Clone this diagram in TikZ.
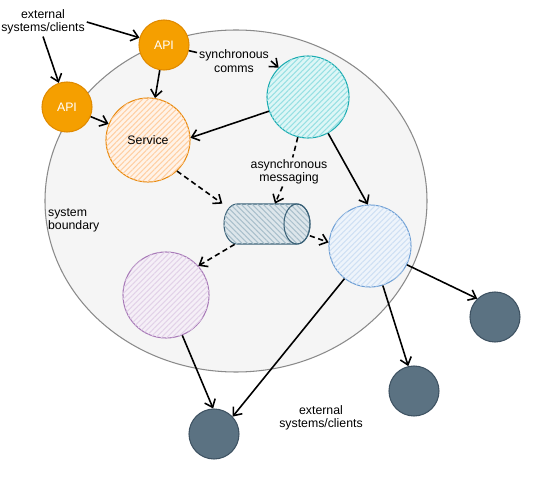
\documentclass[tikz,border=0pt]{standalone}
\usepackage{fontspec}
\setmainfont{Liberation Sans}
\usetikzlibrary{arrows.meta,patterns.meta}
\definecolor{bndgray}{HTML}{8A8A8A}
\definecolor{bndfill}{HTML}{F5F5F5}
\definecolor{apifill}{HTML}{F59F00}
\definecolor{apidraw}{HTML}{E08A00}
\definecolor{svcdraw}{HTML}{E8890C}
\definecolor{svcbg}{HTML}{FFF3E8}
\definecolor{svchatch}{HTML}{FFCFA3}
\definecolor{tealdraw}{HTML}{1AABB0}
\definecolor{tealbg}{HTML}{DDF6F6}
\definecolor{tealhatch}{HTML}{97E0E3}
\definecolor{cyldraw}{HTML}{3A6177}
\definecolor{cylbg}{HTML}{DDE6EB}
\definecolor{cylhatch}{HTML}{A9BFCB}
\definecolor{bluedraw}{HTML}{6E9FD5}
\definecolor{bluebg}{HTML}{EEF4FB}
\definecolor{bluehatch}{HTML}{CFE0F4}
\definecolor{purpdraw}{HTML}{A87AB8}
\definecolor{purpbg}{HTML}{F5EFF7}
\definecolor{purphatch}{HTML}{E2D2E8}
\definecolor{darkfill}{HTML}{5B7282}
\definecolor{darkdraw}{HTML}{3E5262}
\tikzset{
  boundary/.style={draw=bndgray, fill=bndfill, line width=0.6pt},
  hatch/.style 2 args={postaction={pattern color=#2, pattern={Lines[angle=#1,distance=2.2pt,line width=0.6pt]}}},
  comp/.style={circle, inner sep=0pt, line width=0.6pt},
  api/.style={comp, draw=apidraw, fill=apifill, text=white, minimum size=10mm},
  extsys/.style={comp, draw=darkdraw, fill=darkfill, minimum size=10mm},
  queuebox/.style={rectangle, inner sep=0pt, minimum width=17.4mm, minimum height=8mm},
  queuebody/.style={draw=cyldraw, fill=cylbg, hatch={-45}{cylhatch}, line width=0.6pt},
  lbl/.style={align=center, inner sep=1pt},
  arr/.style={line width=0.9pt, -{Straight Barb[length=4pt,width=6.5pt]}},
  dasharr/.style={arr, dash pattern=on 3pt off 2pt},
}
\begin{document}
\begin{tikzpicture}[x=0.2mm, y=-0.2mm, font=\fontsize{7}{7.6}\selectfont]
\useasboundingbox (0,0) rectangle (534,477);
% system boundary
\draw[boundary] (236,201) ellipse [x radius=38.2mm, y radius=34.2mm];
\node[lbl, anchor=west, align=left] (sysb) at (46,220) {system\\boundary};

% components
\node[api] (apitop) at (164,45) {API};
\node[api] (apileft) at (67,107) {API};
\node[comp, draw=svcdraw, fill=svcbg, hatch={45}{svchatch}, minimum size=16.8mm] (service) at (148,140) {Service};
\node[comp, draw=tealdraw, fill=tealbg, hatch={45}{tealhatch}, minimum size=16.4mm] (teal) at (308,97) {};
\node[comp, draw=bluedraw, fill=bluebg, hatch={45}{bluehatch}, minimum size=16.4mm] (blue) at (370,246) {};
\node[comp, draw=purpdraw, fill=purpbg, hatch={45}{purphatch}, minimum size=17.2mm] (purple) at (166,295) {};

% message queue
\node[queuebox] (queue) at (266,224) {};
\draw[queuebody] (237,204) -- (297,204) arc[start angle=90, end angle=-90, x radius=2.6mm, y radius=4mm]
  -- (237,244) arc[start angle=270, end angle=90, x radius=2.6mm, y radius=4mm] -- cycle;
\draw[draw=cyldraw, line width=0.6pt] (297,224) ellipse [x radius=2.6mm, y radius=4mm];

% external systems
\node[extsys] (extA) at (214,434) {};
\node[extsys] (extB) at (414,391) {};
\node[extsys] (extC) at (495,317) {};

% labels
\node[lbl] (extin) at (43,22) {external\\systems/clients};
\node[lbl] (sync) at (234,61) {synchronous\\comms};
\node[lbl] (async) at (289,172) {asynchronous\\messaging};
\node[lbl] (extout) at (321,418) {external\\systems/clients};

% synchronous calls
\draw[arr] (extin.east) -- (apitop);
\draw[arr] (extin.south) -- (apileft);
\draw[arr] (apitop) -- (service);
\draw[arr] (apileft) -- (service);
\draw[line width=0.9pt] (apitop) -- (sync);
\draw[arr] (sync.east) -- (teal.135);
\draw[arr] (teal.200) -- (service.3);
\draw[arr] (teal.-61) -- (blue.93);

% asynchronous messaging
\draw[line width=0.9pt, dash pattern=on 3pt off 2pt] (teal) -- (async);
\draw[dasharr] (async) -- (queue);
\draw[dasharr] (service.-47) -- (queue.155);
\draw[dasharr] (queue.-15) -- (blue.175);
\draw[dasharr] (queue.213) -- (purple.42);

% outgoing calls
\draw[arr] (purple.-68) -- (extA.92);
\draw[arr] (blue.-128) -- (extA.43);
\draw[arr] (blue.-72) -- (extB.103);
\draw[arr] (blue.-27) -- (extC.134);
\end{tikzpicture}
\end{document}
